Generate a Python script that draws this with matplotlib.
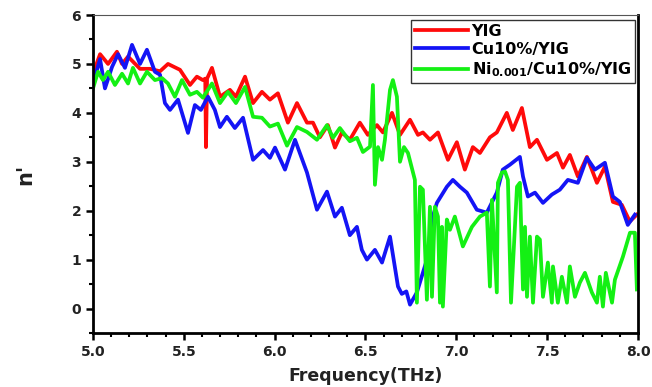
import matplotlib
matplotlib.use("Agg")
import matplotlib.pyplot as plt
from matplotlib.ticker import MultipleLocator

plt.rcParams['font.family'] = ['DejaVu Sans']
plt.rcParams['mathtext.fontset'] = 'dejavusans'

# ---- data (frequency in THz, n') ----
yig_f = [5.000, 5.039, 5.083, 5.132, 5.160, 5.193, 5.259, 5.314, 5.369, 5.413,
         5.479, 5.534, 5.572, 5.605, 5.618, 5.622, 5.628, 5.655, 5.699, 5.754,
         5.787, 5.837, 5.881, 5.930, 5.974, 6.018, 6.073, 6.123, 6.178, 6.211,
         6.249, 6.293, 6.332, 6.370, 6.414, 6.469, 6.513, 6.563, 6.596, 6.646,
         6.690, 6.745, 6.789, 6.816, 6.855, 6.899, 6.954, 7.003, 7.047, 7.091,
         7.130, 7.185, 7.223, 7.278, 7.311, 7.361, 7.405, 7.444, 7.499, 7.554,
         7.587, 7.625, 7.669, 7.719, 7.774, 7.818, 7.862, 7.911, 7.955, 7.994]
yig_n = [4.80, 5.20, 5.00, 5.25, 5.00, 5.15, 4.90, 4.90, 4.85, 5.00,
         4.88, 4.57, 4.74, 4.67, 4.70, 3.30, 4.70, 4.92, 4.33, 4.47,
         4.33, 4.74, 4.20, 4.43, 4.27, 4.40, 3.80, 4.20, 3.80, 3.80,
         3.50, 3.75, 3.29, 3.60, 3.45, 3.80, 3.55, 3.75, 3.60, 4.00,
         3.55, 3.86, 3.55, 3.60, 3.45, 3.60, 3.04, 3.40, 2.84, 3.30,
         3.18, 3.50, 3.60, 4.00, 3.65, 4.10, 3.30, 3.45, 3.04, 3.18,
         2.88, 3.14, 2.70, 3.10, 2.57, 2.90, 2.18, 2.12, 1.78, 1.92]

cu_f = [5.000, 5.039, 5.066, 5.105, 5.138, 5.176, 5.215, 5.259, 5.297, 5.341,
        5.369, 5.396, 5.424, 5.468, 5.523, 5.561, 5.594, 5.633, 5.671, 5.699,
        5.737, 5.781, 5.826, 5.881, 5.936, 5.974, 6.002, 6.057, 6.112, 6.178,
        6.233, 6.288, 6.332, 6.370, 6.414, 6.453, 6.480, 6.508, 6.552, 6.591,
        6.635, 6.679, 6.700, 6.725, 6.745, 6.783, 6.838, 6.866, 6.893, 6.948,
        6.981, 7.020, 7.058, 7.113, 7.168, 7.223, 7.256, 7.295, 7.350, 7.367,
        7.394, 7.433, 7.477, 7.526, 7.570, 7.614, 7.669, 7.719, 7.763, 7.818,
        7.862, 7.900, 7.944, 7.983]
cu_n = [4.60, 5.10, 4.50, 4.94, 5.20, 4.92, 5.39, 5.00, 5.29, 4.84,
        4.78, 4.20, 4.06, 4.27, 3.59, 4.16, 4.06, 4.33, 4.06, 3.71,
        3.92, 3.69, 3.90, 3.04, 3.24, 3.08, 3.29, 2.84, 3.45, 2.78,
        2.02, 2.39, 1.88, 2.06, 1.50, 1.67, 1.20, 1.00, 1.20, 0.94,
        1.47, 0.45, 0.30, 0.35, 0.08, 0.33, 1.00, 1.82, 2.16, 2.49,
        2.63, 2.49, 2.37, 2.02, 1.96, 2.37, 2.84, 2.94, 3.10, 2.70,
        2.29, 2.37, 2.16, 2.33, 2.43, 2.63, 2.57, 3.08, 2.84, 2.98,
        2.29, 2.18, 1.71, 1.92]

ni_f = [5.000, 5.028, 5.055, 5.083, 5.121, 5.160, 5.193, 5.220, 5.259, 5.297,
        5.341, 5.380, 5.413, 5.451, 5.490, 5.534, 5.572, 5.605, 5.655, 5.699,
        5.743, 5.787, 5.837, 5.881, 5.930, 5.974, 6.018, 6.068, 6.123, 6.178,
        6.233, 6.288, 6.321, 6.359, 6.414, 6.453, 6.486, 6.525, 6.541, 6.552,
        6.569, 6.591, 6.607, 6.635, 6.651, 6.673, 6.690, 6.712, 6.734, 6.772,
        6.783, 6.800, 6.816, 6.838, 6.855, 6.866, 6.882, 6.899, 6.910, 6.921,
        6.926, 6.948, 6.965, 6.992, 7.036, 7.086, 7.130, 7.168, 7.185, 7.196,
        7.223, 7.229, 7.251, 7.268, 7.284, 7.301, 7.334, 7.350, 7.367, 7.378,
        7.389, 7.405, 7.422, 7.444, 7.460, 7.477, 7.504, 7.526, 7.532, 7.559,
        7.581, 7.609, 7.625, 7.653, 7.680, 7.708, 7.746, 7.774, 7.790, 7.807,
        7.823, 7.857, 7.873, 7.917, 7.956, 7.983, 7.994]
ni_n = [4.50, 4.84, 4.67, 4.84, 4.57, 4.80, 4.60, 4.92, 4.60, 4.84,
        4.67, 4.71, 4.60, 4.33, 4.67, 4.37, 4.43, 4.31, 4.60, 4.20,
        4.43, 4.20, 4.53, 3.92, 3.90, 3.72, 3.78, 3.33, 3.71, 3.61,
        3.45, 3.75, 3.49, 3.69, 3.42, 3.49, 3.20, 3.31, 4.57, 2.53,
        3.30, 3.04, 3.45, 4.47, 4.67, 4.33, 3.00, 3.30, 3.18, 2.63,
        0.12, 2.49, 2.43, 0.18, 2.08, 0.24, 2.08, 1.88, 0.12, 1.67,
        0.04, 1.82, 1.61, 1.88, 1.27, 1.67, 1.88, 1.96, 0.45, 2.22,
        0.33, 2.57, 2.78, 2.80, 2.63, 0.12, 2.49, 2.57, 0.39, 1.67,
        0.24, 1.47, 0.12, 1.47, 1.41, 0.24, 0.94, 0.12, 0.86, 0.12,
        0.65, 0.12, 0.86, 0.24, 0.53, 0.73, 0.33, 0.12, 0.65, 0.04,
        0.73, 0.12, 0.59, 1.06, 1.55, 1.55, 0.39]

labels = ["YIG", "Cu10%/YIG", r"Ni$_{\mathbf{0.001}}$/Cu10%/YIG"]
colors = ["#ff0a0a", "#1414f5", "#14f014"]

fig = plt.figure(figsize=(6.52, 3.87), dpi=100)
ax = fig.add_axes([0.1426, 0.1395, 0.8359, 0.8217])

ax.plot(yig_f, yig_n, color=colors[0], lw=2.7, label=labels[0])
ax.plot(cu_f, cu_n, color=colors[1], lw=2.7, label=labels[1])
ax.plot(ni_f, ni_n, color=colors[2], lw=2.7, label=labels[2])

ax.set_xlim(5.0, 8.0)
ax.set_ylim(-0.5, 6.0)
ax.xaxis.set_major_locator(MultipleLocator(0.5))
ax.xaxis.set_minor_locator(MultipleLocator(0.1))
ax.yaxis.set_major_locator(MultipleLocator(1))
ax.yaxis.set_minor_locator(MultipleLocator(0.5))

for s in ['left', 'bottom', 'right']:
    ax.spines[s].set_linewidth(2.0)
    ax.spines[s].set_color('black')
ax.spines['top'].set_linewidth(0.8)
ax.spines['top'].set_color('#555555')

ax.tick_params(which='major', direction='out', length=5, width=1.8,
               top=False, right=False, labelsize=10, labelcolor='#222222')
ax.tick_params(which='minor', direction='out', length=3, width=1.5,
               top=False, right=False)
for lab in ax.get_xticklabels() + ax.get_yticklabels():
    lab.set_fontweight('bold')

ax.set_xlabel("Frequency(THz)", fontsize=12.5, fontweight='bold', color='#222222',
              labelpad=6)
ax.set_ylabel("n'", fontsize=15, fontweight='bold', color='#222222', labelpad=26)

leg = ax.legend(loc='upper right', bbox_to_anchor=(0.9945, 0.985), frameon=True,
                fancybox=False, edgecolor='#333333', framealpha=1,
                prop={'weight': 'bold', 'size': 11.5}, handlelength=3.3,
                handletextpad=0.25, borderpad=0.25, labelspacing=0.2,
                borderaxespad=0)
leg.get_frame().set_linewidth(1.0)
for h in leg.get_lines():
    h.set_linewidth(2.7)

fig.savefig("out.png", dpi=100)
